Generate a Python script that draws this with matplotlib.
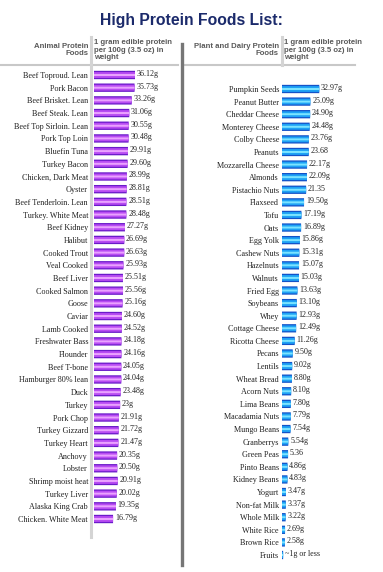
import matplotlib
matplotlib.use("Agg")
import matplotlib.pyplot as plt

# animal protein foods (grams of protein per 100 g)
animal_foods = ["Beef Toproud. Lean", "Pork Bacon", "Beef Brisket. Lean", "Beef Steak. Lean",
                "Beef Top Sirloin. Lean", "Pork Top Loin", "Bluefin Tuna", "Turkey Bacon",
                "Chicken, Dark Meat", "Oyster", "Beef Tenderloin. Lean", "Turkey. White Meat",
                "Beef Kidney", "Halibut", "Cooked Trout", "Veal Cooked", "Beef Liver",
                "Cooked Salmon", "Goose", "Caviar", "Lamb Cooked", "Freshwater Bass",
                "Flounder", "Beef T-bone", "Hamburger 80% lean", "Duck", "Turkey",
                "Pork Chop", "Turkey Gizzard", "Turkey Heart", "Anchovy", "Lobster",
                "Shrimp moist heat", "Turkey Liver", "Alaska King Crab", "Chicken. White Meat"]
animal_values = [36.12, 35.73, 33.26, 31.06, 30.55, 30.48, 29.91, 29.60, 28.99, 28.81,
                 28.51, 28.48, 27.27, 26.69, 26.63, 25.93, 25.51, 25.56, 25.16, 24.60,
                 24.52, 24.18, 24.16, 24.05, 24.04, 23.48, 23.0, 21.91, 21.72, 21.47,
                 20.35, 20.50, 20.91, 20.02, 19.35, 16.79]
animal_labels = ["36.12g", "35.73g", "33.26g", "31.06g", "30.55g", "30.48g", "29.91g",
                 "29.60g", "28.99g", "28.81g", "28.51g", "28.48g", "27.27g", "26.69g",
                 "26.63g", "25.93g", "25.51g", "25.56g", "25.16g", "24.60g", "24.52g",
                 "24.18g", "24.16g", "24.05g", "24.04g", "23.48g", "23g", "21.91g",
                 "21.72g", "21.47g", "20.35g", "20.50g", "20.91g", "20.02g", "19.35g",
                 "16.79g"]

# plant and dairy protein foods
plant_foods = ["Pumpkin Seeds", "Peanut Butter", "Cheddar Cheese", "Monterey Cheese",
               "Colby Cheese", "Peanuts", "Mozzarella Cheese", "Almonds", "Pistachio Nuts",
               "Flaxseed", "Tofu", "Oats", "Egg Yolk", "Cashew Nuts", "Hazelnuts", "Walnuts",
               "Fried Egg", "Soybeans", "Whey", "Cottage Cheese", "Ricotta Cheese", "Pecans",
               "Lentils", "Wheat Bread", "Acorn Nuts", "Lima Beans", "Macadamia Nuts",
               "Mungo Beans", "Cranberrys", "Green Peas", "Pinto Beans", "Kidney Beans",
               "Yogurt", "Non-fat Milk", "Whole Milk", "White Rice", "Brown Rice", "Fruits"]
plant_values = [32.97, 25.09, 24.90, 24.48, 23.76, 23.68, 22.17, 22.09, 21.35, 19.50,
                17.19, 16.89, 15.86, 15.31, 15.07, 15.03, 13.63, 13.10, 12.93, 12.49,
                11.26, 9.50, 9.02, 8.80, 8.10, 7.80, 7.79, 7.54, 5.54, 5.36, 4.86, 4.83,
                3.47, 3.37, 3.22, 2.69, 2.58, 1.0]
plant_labels = ["32.97g", "25.09g", "24.90g", "24.48g", "23.76g", "23.68", "22.17g",
                "22.09g", "21.35", "19.50g", "17.19g", "16.89g", "15.86g", "15.31g",
                "15.07g", "15.03g", "13.63g", "13.10g", "12.93g", "12.49g", "11.26g",
                "9.50g", "9.02g", "8.80g", "8.10g", "7.80g", "7.79g", "7.54g", "5.54g",
                "5.36", "4.86g", "4.83g", "3.47g", "3.37g", "3.22g", "2.69g", "2.58g",
                "~1g or less"]

W, H = 383, 572
SERIF = ["Liberation Serif", "DejaVu Serif"]
SANS = ["Liberation Sans", "DejaVu Sans"]

fig = plt.figure(figsize=(W / 100, H / 100), dpi=100)
fig.patch.set_facecolor("white")

# background layer in pixel coordinates for titles and rules
bg = fig.add_axes([0, 0, 1, 1])
bg.set_xlim(0, W)
bg.set_ylim(H, 0)
bg.axis("off")

bg.text(191, 20, "High Protein Foods List:", ha="center", va="center",
        fontsize=11.3, fontweight="bold", color="#1b2a6b", family=SANS)

hdr = dict(fontsize=5.6, fontweight="bold", color="#5a5a5a", family=SANS,
           linespacing=1.1)
bg.text(88, 50, "Animal Protein\nFoods", ha="right", va="center", multialignment="right", **hdr)
bg.text(94, 50, "1 gram edible protein\nper 100g (3.5 oz) in\nweight", ha="left",
        va="center", **hdr)
bg.text(279, 50, "Plant and Dairy Protein\nFoods", ha="right", va="center",
        multialignment="right", **hdr)
bg.text(284, 50, "1 gram edible protein\nper 100g (3.5 oz) in\nweight", ha="left",
        va="center", **hdr)

bg.plot([0, 178], [65, 65], color="#c8c8c8", lw=1.5)
bg.plot([185, 355], [65, 65], color="#c8c8c8", lw=1.5)
bg.plot([91, 91], [37, 537], color="#d4d4d4", lw=2.2)
bg.plot([281.5, 281.5], [37, 65], color="#d4d4d4", lw=2.2)
bg.plot([182, 182], [44, 565], color="#767676", lw=2.4)


def px_axes(x0, x1, y_top, y_bot):
    return fig.add_axes([x0 / W, 1 - y_bot / H, (x1 - x0) / W, (y_bot - y_top) / H])


def draw_panel(ax, names, values, labels, scale, width_px, colors, pad):
    n = len(names)
    idx = list(range(n))
    ax.barh(idx, values, height=0.66, color=colors[0], edgecolor="none", snap=False)
    ax.barh(idx, values, height=0.46, color=colors[1], edgecolor="none", snap=False)
    ax.barh(idx, values, height=0.16, color=colors[2], edgecolor="none", snap=False)
    for i, (v, lab) in enumerate(zip(values, labels)):
        ax.text(v + 1.8 / scale, i - 0.08, lab, va="center", ha="left",
                fontsize=5.8, family=SERIF, color="#222222")
    ax.set_xlim(0, width_px / scale)
    ax.set_ylim(n - 0.5, -0.5)
    ax.set_yticks(idx, names)
    ax.tick_params(axis="y", length=0, pad=pad, labelsize=5.9, labelcolor="#222222")
    for t in ax.get_yticklabels():
        t.set_family(SERIF)
    ax.set_xticks([])
    for s in ax.spines.values():
        s.set_visible(False)
    ax.patch.set_alpha(0)


row_l = 12.69
ax_l = px_axes(94, 174, 75 - row_l / 2, 519 + row_l / 2)
draw_panel(ax_l, animal_foods, animal_values, animal_labels, 1.135, 80,
           ["#6a1bc9", "#b84cf2", "#eaa2ff"], 4.3)

row_r = 12.6
ax_r = px_axes(282, 372, 89 - row_r / 2, 555 + row_r / 2)
draw_panel(ax_r, plant_foods, plant_values, plant_labels, 1.13, 90,
           ["#1452c8", "#1ea2f5", "#7ae4ff"], 2.2)

fig.savefig("out.png", dpi=100, facecolor="white")
